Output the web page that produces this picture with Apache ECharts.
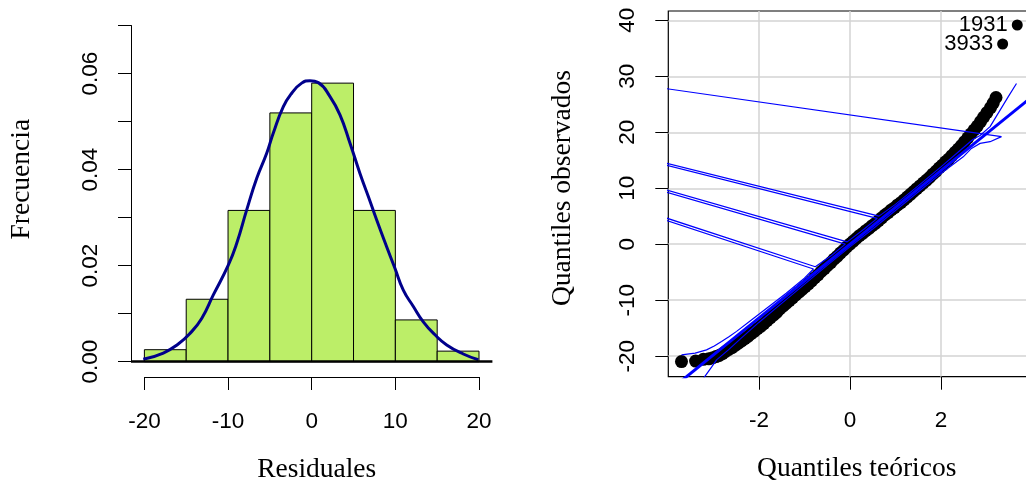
<!DOCTYPE html>
<html>
<head>
<meta charset="utf-8">
<script src="https://cdn.jsdelivr.net/npm/echarts@6/dist/echarts.min.js"></script>
<style>
  html, body { margin: 0; padding: 0; background: #fff; }
  #chart { width: 1026px; height: 489px; }
</style>
</head>
<body>
<div id="chart"></div>
<script>
// ---- Histogram of residuals (density scale) ----
const binEdges = [-20, -15, -10, -5, 0, 5, 10, 15, 20];
const binDensity = [0.0025, 0.0130, 0.0315, 0.0518, 0.0580, 0.0315, 0.0087, 0.0022];

// kernel density estimate of the residuals
const densityX = [-20.13, -17.74, -15.95, -14.55, -13.15, -11.76, -9.97, -8.97, -7.77, -6.57, -5.38, -4.59,
  -3.39, -2.39, -1.20, -0.20, 0.79, 2.19, 3.38, 4.58, 5.77, 6.77, 7.77, 8.97, 9.96, 10.95, 12.15, 13.34,
  14.74, 16.14, 18.12, 19.92];
const densityY = [0.0005, 0.0018, 0.0037, 0.0059, 0.0090, 0.0139, 0.0201, 0.0246, 0.0316, 0.0382, 0.0434, 0.0476,
  0.0531, 0.0559, 0.0580, 0.0585, 0.0581, 0.0552, 0.0514, 0.0455, 0.0392, 0.0344, 0.0295, 0.0239, 0.0194, 0.0149,
  0.0115, 0.0083, 0.0056, 0.0035, 0.0016, 0.0004];

const histXTicks = [-20, 10, 20];      // min, interval, max
const histYTicks = [0, 0.01, 0.07];

// ---- Normal QQ plot ----
// theoretical quantile, observed quantile
const qqPoints = [
  [-3.70,-21.0],[-3.39,-20.9],[-3.22,-20.6],[-3.10,-20.5],[-3.01,-20.3],[-2.94,-20.1],[-2.87,-19.9],[-2.80,-19.6],
  [-2.73,-19.2],[-2.66,-18.8],[-2.59,-18.5],[-2.52,-18.1],[-2.45,-17.7],[-2.38,-17.3],[-2.31,-16.9],[-2.24,-16.5],
  [-2.17,-16.0],[-2.10,-15.6],[-2.03,-15.1],[-1.96,-14.7],[-1.89,-14.2],[-1.82,-13.7],[-1.75,-13.2],[-1.68,-12.7],
  [-1.61,-12.2],[-1.54,-11.6],[-1.47,-11.1],[-1.40,-10.6],[-1.33,-10.1],[-1.26,-9.6],[-1.19,-9.1],[-1.12,-8.6],
  [-1.05,-8.1],[-0.98,-7.6],[-0.91,-7.1],[-0.84,-6.6],[-0.77,-6.0],[-0.70,-5.5],[-0.63,-4.9],[-0.56,-4.4],
  [-0.49,-3.8],[-0.42,-3.3],[-0.35,-2.7],[-0.28,-2.2],[-0.21,-1.6],[-0.14,-1.1],[-0.07,-0.5],[0.00,0.0],
  [0.07,0.5],[0.14,1.0],[0.21,1.5],[0.28,1.9],[0.35,2.4],[0.42,2.8],[0.49,3.3],[0.56,3.7],
  [0.63,4.2],[0.70,4.7],[0.77,5.2],[0.84,5.6],[0.91,6.1],[0.98,6.5],[1.05,7.0],[1.12,7.4],
  [1.19,7.9],[1.26,8.4],[1.33,8.9],[1.40,9.4],[1.47,9.9],[1.54,10.4],[1.61,10.9],[1.68,11.4],
  [1.75,11.9],[1.82,12.5],[1.89,13.0],[1.96,13.6],[2.03,14.1],[2.10,14.7],[2.17,15.2],[2.24,15.8],
  [2.31,16.4],[2.38,17.0],[2.45,17.6],[2.52,18.3],[2.59,19.0],[2.66,19.7],[2.73,20.4],[2.80,21.1],
  [2.87,21.9],[2.94,22.7],[3.01,23.5],[3.09,24.4],[3.15,25.2],[3.21,26.2]
];
const outlierPoints = [[3.677, 39.16], [3.356, 35.76]];
const outlierIds = ['1931', '3933'];

// fitted reference line
const refIntercept = -0.04;
const refSlope = 6.59;

// pointwise confidence envelope (as stored, including its jumps)
const envUpper = [
  [-3.70,-19.8],[-3.40,-19.5],[-3.15,-18.9],[-2.98,-18.2],[-2.82,-17.4],[-2.65,-16.5],[-2.49,-15.6],
  [-2.20,-13.8],[-1.80,-11.3],[-1.40,-8.8],[-1.00,-6.1],[-0.80,-4.45],
  [-19.5,45.8],[-0.76,-4.05],[-0.40,-2.0],[-0.10,0.0],
  [-19.5,45.8],[-0.06,0.4],[0.30,2.6],[0.60,4.6],
  [-19.5,45.8],[0.64,5.0],[1.00,7.1],[1.50,10.4],[2.00,13.8],[2.40,16.6],[2.70,18.7],[2.86,19.4],
  [3.08,21.0],[3.26,23.4],[3.48,26.35],[3.66,28.7]
];
const envLower = [
  [-3.30,-25.0],[-3.19,-23.7],[-3.04,-22.0],[-2.93,-20.7],[-2.67,-18.9],[-2.40,-16.9],[-2.00,-14.0],
  [-1.50,-10.6],[-1.00,-7.2],[-0.50,-3.8],[0.00,-0.5],[0.50,2.7],[1.00,6.0],[1.50,9.3],[2.00,12.6],
  [2.49,15.6],[2.67,17.1],[2.86,18.0],[3.08,18.3],[3.33,19.2],[-19.5,45.8]
];

const qqXTicks = [-2, 2, 2];     // min, interval, max
const qqYTicks = [-20, 10, 40];

// ---- styling ----
const SANS = 'Liberation Sans';
const SERIF = 'Liberation Serif';
const TICK_FONT = 22.5;
const TITLE_FONT = 27.5;
const GRID_GRAY = '#d3d3d3';

const chart = echarts.init(document.getElementById('chart'), null, { renderer: 'canvas' });

const hidden = (idx, min, max) => ({ gridIndex: idx, type: 'value', min, max, show: false });

const tickLabel = (extra) => Object.assign({
  color: '#000', fontFamily: SANS, fontSize: TICK_FONT, showMinLabel: true, showMaxLabel: true
}, extra);

const option = {
  animation: false,
  backgroundColor: '#fff',
  grid: [
    // 0: histogram plot region
    { left: 131, top: 25.5, width: 361.4, height: 336.2, outerBoundsMode: 'none' },
    // 1: histogram x axis (drawn below the plot region)
    { left: 144.4, top: 376, width: 334.6, height: 1, outerBoundsMode: 'none' },
    // 2: QQ plot region with box
    { left: 668.3, top: 11, width: 362.3, height: 365.7, show: true, borderColor: '#000', borderWidth: 1.2,
      backgroundColor: 'transparent', outerBoundsMode: 'none' },
    // 3: QQ y ticks / horizontal grid lines
    { left: 668.3, top: 20.3, width: 362.3, height: 335.9, outerBoundsMode: 'none' },
    // 4: QQ x ticks / vertical grid lines
    { left: 759, top: 11, width: 182, height: 365.7, outerBoundsMode: 'none' }
  ],
  xAxis: [
    hidden(0, -21.6, 21.6),
    {
      gridIndex: 1, type: 'value', min: histXTicks[0], max: histXTicks[2], interval: histXTicks[1],
      axisLine: { show: true, onZero: false, lineStyle: { color: '#000', width: 1 } },
      axisTick: { show: true, inside: false, length: 13, lineStyle: { color: '#000', width: 1 } },
      axisLabel: tickLabel({ margin: 33 }),
      splitLine: { show: false }
    },
    hidden(2, -3.99, 3.97),
    hidden(3, 0, 1),
    {
      gridIndex: 4, type: 'value', min: qqXTicks[0], max: qqXTicks[2], interval: qqXTicks[1],
      axisLine: { show: false, onZero: false },
      axisTick: { show: true, inside: false, length: 13, lineStyle: { color: '#000', width: 1 } },
      axisLabel: tickLabel({ margin: 33 }),
      splitLine: { show: true, lineStyle: { color: GRID_GRAY, width: 1.5 } }
    }
  ],
  yAxis: [
    {
      gridIndex: 0, type: 'value', min: histYTicks[0], max: histYTicks[2], interval: histYTicks[1],
      axisLine: { show: true, onZero: false, lineStyle: { color: '#000', width: 1 } },
      axisTick: { show: true, inside: false, length: 13, lineStyle: { color: '#000', width: 1 } },
      axisLabel: tickLabel({
        rotate: 90, margin: 29,
        formatter: (v) => (Math.round(v * 100) % 2 === 0 ? v.toFixed(2) : '')
      }),
      splitLine: { show: false }
    },
    hidden(1, 0, 1),
    hidden(2, -23.7, 41.66),
    {
      gridIndex: 3, type: 'value', min: qqYTicks[0], max: qqYTicks[2], interval: qqYTicks[1],
      axisLine: { show: false, onZero: false },
      axisTick: { show: true, inside: false, length: 13, lineStyle: { color: '#000', width: 1 } },
      axisLabel: tickLabel({ rotate: 90, margin: 29 }),
      splitLine: { show: true, lineStyle: { color: GRID_GRAY, width: 1.5 } }
    },
    hidden(4, 0, 1)
  ],
  series: [
    {
      name: 'hist', type: 'custom', xAxisIndex: 0, yAxisIndex: 0,
      data: binDensity.map((d, i) => [binEdges[i], binEdges[i + 1], d]),
      encode: { x: [0, 1], y: 2 },
      renderItem: (params, api) => {
        const p0 = api.coord([api.value(0), 0]);
        const p1 = api.coord([api.value(1), api.value(2)]);
        return {
          type: 'rect',
          shape: { x: p0[0], y: p1[1], width: p1[0] - p0[0], height: p0[1] - p1[1] },
          style: { fill: '#bcee68', stroke: '#000', lineWidth: 1 }
        };
      },
      markLine: {
        silent: true, symbol: 'none', label: { show: false },
        lineStyle: { color: '#000', width: 2.5, type: 'solid' },
        data: [{ yAxis: 0 }]
      }
    },
    {
      name: 'density', type: 'line', xAxisIndex: 0, yAxisIndex: 0,
      data: densityX.map((x, i) => [x, densityY[i]]),
      smooth: 0.5, showSymbol: false, silent: true,
      lineStyle: { color: '#00008b', width: 3 }
    },
    {
      name: 'qq', type: 'scatter', xAxisIndex: 2, yAxisIndex: 2,
      data: qqPoints, symbol: 'circle', symbolSize: 13, silent: true,
      itemStyle: { color: '#000', opacity: 1 }
    },
    {
      name: 'outliers', type: 'scatter', xAxisIndex: 2, yAxisIndex: 2,
      data: outlierPoints, symbol: 'circle', symbolSize: 11, silent: true,
      itemStyle: { color: '#000', opacity: 1 },
      label: {
        show: true, position: 'left', distance: 4,
        formatter: (p) => outlierIds[p.dataIndex],
        color: '#000', fontFamily: SANS, fontSize: 22
      }
    },
    {
      name: 'ref', type: 'line', xAxisIndex: 2, yAxisIndex: 2,
      data: [-5, 5].map((x) => [x, refIntercept + refSlope * x]),
      showSymbol: false, silent: true,
      lineStyle: { color: '#0000ff', width: 3 }
    },
    {
      name: 'envUpper', type: 'line', xAxisIndex: 2, yAxisIndex: 2,
      data: envUpper, showSymbol: false, silent: true,
      lineStyle: { color: '#0000ff', width: 1.2 }
    },
    {
      name: 'envLower', type: 'line', xAxisIndex: 2, yAxisIndex: 2,
      data: envLower, showSymbol: false, silent: true,
      lineStyle: { color: '#0000ff', width: 1.2 }
    }
  ],
  graphic: [
    { type: 'text', x: 316.7, y: 469.7, style: { text: 'Residuales', font: `${TITLE_FONT}px "${SERIF}"`,
      fill: '#000', textAlign: 'center', textVerticalAlign: 'middle' } },
    { type: 'text', x: 21.7, y: 179.2, rotation: Math.PI / 2, style: { text: 'Frecuencia',
      font: `${TITLE_FONT}px "${SERIF}"`, fill: '#000', textAlign: 'center', textVerticalAlign: 'middle' } },
    { type: 'text', x: 856.7, y: 468.7, style: { text: 'Quantiles teóricos', font: `${TITLE_FONT}px "${SERIF}"`,
      fill: '#000', textAlign: 'center', textVerticalAlign: 'middle' } },
    { type: 'text', x: 562.5, y: 188, rotation: Math.PI / 2, style: { text: 'Quantiles observados',
      font: `${TITLE_FONT}px "${SERIF}"`, fill: '#000', textAlign: 'center', textVerticalAlign: 'middle' } }
  ]
};

chart.setOption(option);
</script>
</body>
</html>
